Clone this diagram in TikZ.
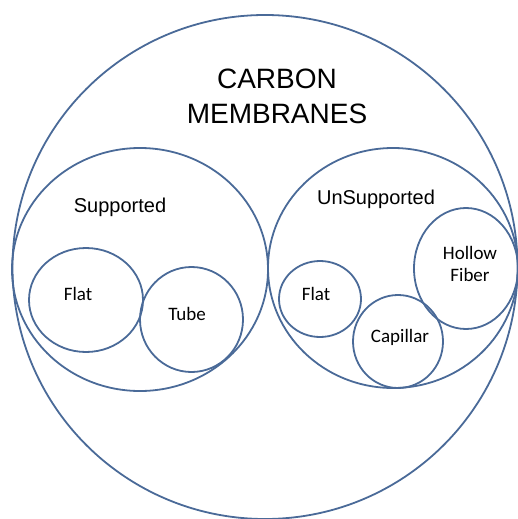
\documentclass[tikz,border=0pt]{standalone}
\usepackage{fontspec}
\setmainfont{Liberation Sans}
\newfontfamily\carl{Carlito}
\definecolor{ringblue}{HTML}{4A6A98}
\begin{document}
\begin{tikzpicture}[x=1pt,y=-1pt,
  ring/.style={draw=ringblue,line width=1.8pt},
  bigtxt/.style={font=\fontsize{28}{35}\selectfont,align=center,inner sep=0pt},
  midtxt/.style={font=\fontsize{20}{23}\selectfont,inner sep=0pt},
  smalltxt/.style={font=\carl\fontsize{19}{22}\selectfont,align=center,inner sep=0pt}]
\useasboundingbox (0,0) rectangle (518,519);
\begin{scope}
\clip (0,0) rectangle (518,519);
% outer
\draw[ring] (265,267) ellipse [x radius=252.5, y radius=252];
% supported
\draw[ring] (140,269.5) ellipse [x radius=128, y radius=121.5];
\draw[ring] (86,300) ellipse [x radius=57, y radius=52];
\draw[ring] (191.5,319.5) ellipse [x radius=51.5, y radius=52.5];
% unsupported
\draw[ring] (393,268) ellipse [x radius=125, y radius=120];
\draw[ring] (320,299) ellipse [x radius=41, y radius=38];
\draw[ring] (398,341.5) ellipse [x radius=45, y radius=46.5];
\draw[ring] (466,268.5) ellipse [x radius=52, y radius=60.5];
\end{scope}
\node[bigtxt] (title) at (277,96) {CARBON\\MEMBRANES};
\node[midtxt] (sup) at (120,207) {Supported};
\node[midtxt] (unsup) at (376,199) {UnSupported};
\node[smalltxt] (flat1) at (78,294) {Flat};
\node[smalltxt] (tube) at (187,314) {Tube};
\node[smalltxt] (flat2) at (316,294) {Flat};
\node[smalltxt] (cap) at (400,337) {Capillar};
\node[smalltxt] (hollow) at (470,264) {Hollow\\Fiber};
\end{tikzpicture}
\end{document}
